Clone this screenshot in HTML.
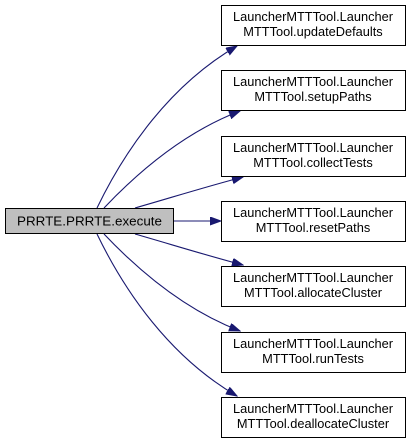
<!DOCTYPE html>
<html><head><style>
html,body{margin:0;padding:0;background:#fff;}
svg{display:block;}
text{font-family:"Liberation Sans",Arial,sans-serif;font-size:12.8px;fill:#000;}
</style></head><body>
<svg width="411" height="443" viewBox="0 0 411 443" xmlns="http://www.w3.org/2000/svg">
<defs>
<marker id="a" markerWidth="12" markerHeight="10" refX="11" refY="4" orient="auto" markerUnits="userSpaceOnUse">
<path d="M0,0 L11,4 L0,8 Z" fill="#191970" stroke="#191970"/>
</marker>
</defs>
<g fill="none" stroke="#191970" stroke-width="1.1" marker-end="url(#a)">
<path d="M97,208 C125,150 170,85 237,46"/>
<path d="M104,208 C140,170 185,132 240,111"/>
<path d="M135,208 C170,198 205,187 243,177"/>
<path d="M173,221 L221,221"/>
<path d="M135,234 C170,244 205,255 243,265"/>
<path d="M104,234 C140,272 185,310 240,331"/>
<path d="M97,234 C125,292 170,357 237,396"/>
</g>
<rect x="5.5" y="208.5" width="168" height="25" fill="#bfbfbf" stroke="#000"/>
<text x="89.5" y="225.5" text-anchor="middle" textLength="145" lengthAdjust="spacingAndGlyphs">PRRTE.PRRTE.execute</text>
<g fill="#fff" stroke="#000">
<rect x="221.5" y="5.5" width="184" height="40"/>
<rect x="221.5" y="70.5" width="184" height="40"/>
<rect x="221.5" y="136.5" width="184" height="40"/>
<rect x="221.5" y="201.5" width="184" height="40"/>
<rect x="221.5" y="266.5" width="184" height="40"/>
<rect x="221.5" y="332.5" width="184" height="40"/>
<rect x="221.5" y="397.5" width="184" height="40"/>
</g>
<g text-anchor="middle">
<text x="313" y="21">LauncherMTTTool.Launcher</text><text x="313" y="36">MTTTool.updateDefaults</text>
<text x="313" y="86">LauncherMTTTool.Launcher</text><text x="313" y="101">MTTTool.setupPaths</text>
<text x="313" y="152">LauncherMTTTool.Launcher</text><text x="313" y="167">MTTTool.collectTests</text>
<text x="313" y="217">LauncherMTTTool.Launcher</text><text x="313" y="232">MTTTool.resetPaths</text>
<text x="313" y="282">LauncherMTTTool.Launcher</text><text x="313" y="297">MTTTool.allocateCluster</text>
<text x="313" y="348">LauncherMTTTool.Launcher</text><text x="313" y="363">MTTTool.runTests</text>
<text x="313" y="413">LauncherMTTTool.Launcher</text><text x="313" y="428">MTTTool.deallocateCluster</text>
</g>
</svg>
</body></html>
